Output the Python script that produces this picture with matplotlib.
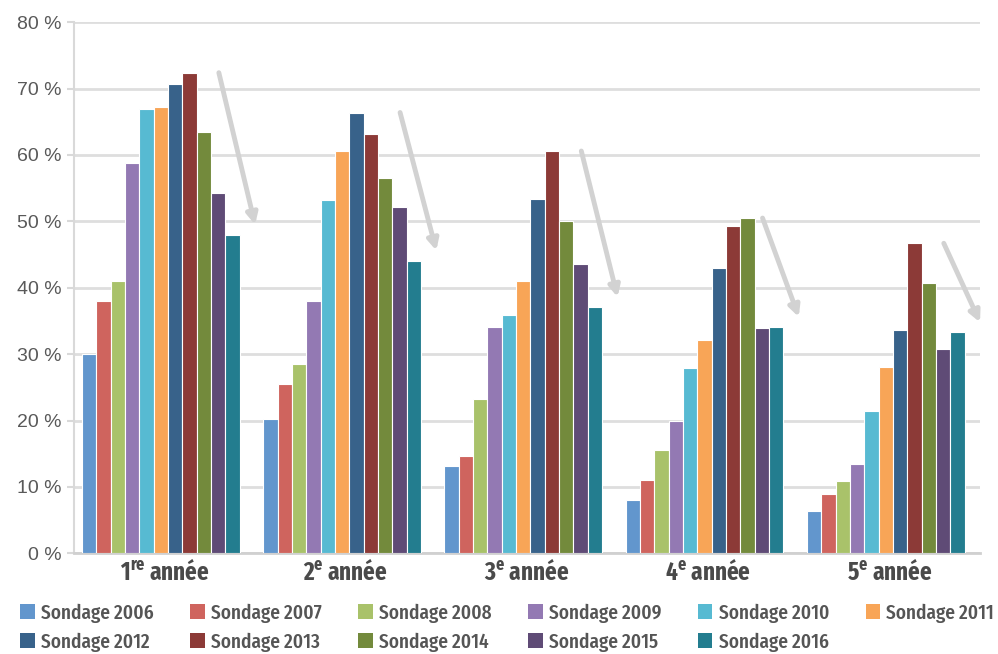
import numpy as np
import matplotlib
matplotlib.use('Agg')
import matplotlib.pyplot as plt
from matplotlib.patches import Patch

years = ['2006', '2007', '2008', '2009', '2010', '2011', '2012', '2013', '2014', '2015', '2016']
groups = [r'1$^{\mathregular{re}}$ année', r'2$^{\mathregular{e}}$ année', r'3$^{\mathregular{e}}$ année',
	r'4$^{\mathregular{e}}$ année', r'5$^{\mathregular{e}}$ année']

# one list per year: values for 1re .. 5e année (%)
s2006 = [30.0, 20.2, 13.1, 8.0, 6.3]
s2007 = [38.0, 25.5, 14.7, 11.0, 9.0]
s2008 = [41.0, 28.5, 23.3, 15.5, 10.9]
s2009 = [58.8, 38.0, 34.1, 20.0, 13.4]
s2010 = [67.0, 53.2, 35.9, 27.9, 21.4]
s2011 = [67.2, 60.6, 41.0, 32.1, 28.1]
s2012 = [70.7, 66.4, 53.4, 43.0, 33.6]
s2013 = [72.4, 63.2, 60.6, 49.3, 46.7]
s2014 = [63.5, 56.6, 50.1, 50.5, 40.7]
s2015 = [54.3, 52.1, 43.6, 34.0, 30.8]
s2016 = [48.0, 44.1, 37.1, 34.1, 33.3]
series = [s2006, s2007, s2008, s2009, s2010, s2011, s2012, s2013, s2014, s2015, s2016]

colors = ['#6296cd', '#cf645e', '#a9c26a', '#9379b3', '#57bad2', '#f8a557',
	'#38628a', '#8c3a37', '#738a3c', '#5f4b76', '#237d8f']

yticks = [0, 10, 20, 30, 40, 50, 60, 70, 80]

narrow = ['Fira Sans Extra Condensed', 'DejaVu Sans']
plt.rcParams['mathtext.default'] = 'regular'

fig = plt.figure(figsize=(9.98, 6.54), dpi=100)
ax = fig.add_axes([0.074, 0.154, 0.908, 0.812])

n = len(series)
group_w = 0.87
bar_w = group_w / n
x = np.arange(len(groups))
for k, (vals, col) in enumerate(zip(series, colors)):
	offs = -group_w / 2 + bar_w * (k + 0.5)
	ax.bar(x + offs - 0.02, vals, width=bar_w, color=col, edgecolor='white', linewidth=0.8, zorder=3)

# downward trend arrows from the peak to the last survey
data = np.array(series)
for i in range(len(groups)):
	ax.annotate('', xy=(i + 0.5, data[-1, i] + 1.5), xytext=(i + 0.3, data[:, i].max()),
		arrowprops=dict(arrowstyle='-|>', color='#d2d2d2', lw=3.5, mutation_scale=16,
			shrinkA=0, shrinkB=0), zorder=4, annotation_clip=False)

ax.set_xlim(-0.5, len(groups) - 0.5)
ax.set_ylim(0, 80)
ax.set_yticks(yticks)
ax.set_yticklabels([f'{t} %' for t in yticks], fontsize=14, color='#595959',
	family=['Liberation Sans', 'DejaVu Sans'])
ax.set_xticks(x)
ax.set_xticklabels(groups, fontsize=18, fontweight='bold', color='#4a4a4a', family=narrow)
ax.tick_params(axis='x', length=0, pad=4)
ax.tick_params(axis='y', length=5, color='#d9d9d9', width=1.5, pad=4)

ax.grid(axis='y', color='#dedede', linewidth=2, zorder=0)
for side in ['top', 'right']:
	ax.spines[side].set_visible(False)
ax.spines['left'].set_color('#d9d9d9')
ax.spines['left'].set_linewidth(1.5)
ax.spines['bottom'].set_color('#d0d0d0')
ax.spines['bottom'].set_linewidth(2)

# legend laid out row by row (matplotlib fills columns first)
labels = [f'Sondage {y}' for y in years]
order = []
for c in range(6):
	order.append(c)
	if c + 6 < n:
		order.append(c + 6)
handles = [Patch(facecolor=colors[i], edgecolor='none') for i in order]
leg = fig.legend(handles, [labels[i] for i in order], loc='lower left', bbox_to_anchor=(0.018, 0.0),
	ncol=6, frameon=False, prop={'family': narrow, 'size': 15, 'weight': 500},
	handlelength=0.7, handleheight=0.7, handletextpad=0.3, columnspacing=1.75, labelspacing=0.45,
	borderpad=0.1, borderaxespad=0)
for t in leg.get_texts():
	t.set_color('#555555')

fig.savefig('out.png', dpi=100)
